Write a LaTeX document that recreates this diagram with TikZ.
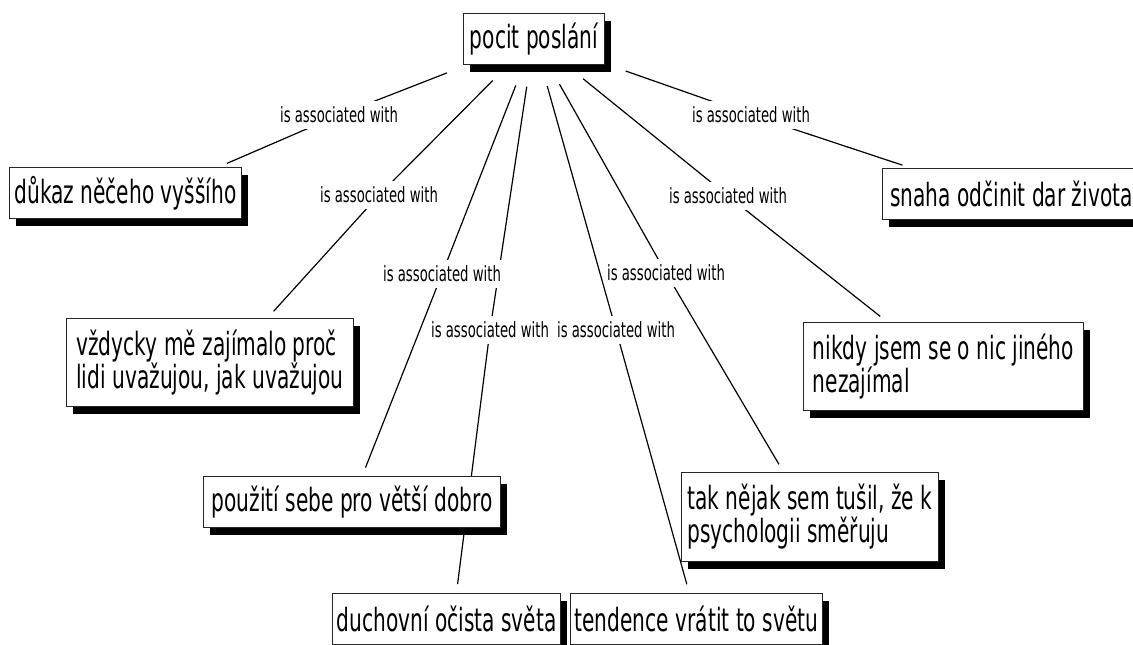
\documentclass[tikz,border=0pt]{standalone}
\usepackage{fontspec}
\setmainfont{DejaVu Sans}[FakeStretch=0.63]
\usetikzlibrary{shadows,backgrounds,calc}

\tikzset{
  concept/.style={draw=black!85, line width=0.9pt, fill=white, anchor=north west,
    inner sep=0pt, align=left, font=\fontsize{32}{33}\selectfont,
    drop shadow={shadow xshift=7pt, shadow yshift=-8pt, fill=black, opacity=1}},
  phrase/.style={fill=white, inner xsep=1pt, inner ysep=5.5pt,
    font=\fontsize{21}{23}\selectfont},
  link/.style={line width=1.2pt, shorten <=22pt, shorten >=9pt},
}

\begin{document}
\begin{tikzpicture}[x=1pt,y=-1pt]
\useasboundingbox (0,0) rectangle (1133,645);

% concepts
\node[concept, minimum width=141pt, minimum height=51pt] (src)   at (463,13)  {pocit poslání};
\node[concept, minimum width=232pt, minimum height=51pt] (dukaz) at (9,167)   {důkaz něčeho vyššího};
\node[concept, minimum width=258pt, minimum height=51pt] (snaha) at (882,168) {snaha odčinit dar života};
\node[concept, minimum width=287pt, minimum height=88pt] (vzdy)  at (66,318)  {vždycky mě zajímalo proč\\lidi uvažujou, jak uvažujou};
\node[concept, minimum width=280pt, minimum height=88pt] (nikdy) at (803,322) {nikdy jsem se o nic jiného\\nezajímal};
\node[concept, minimum width=297pt, minimum height=51pt] (pouz)  at (203,476) {použití sebe pro větší dobro};
\node[concept, minimum width=257pt, minimum height=89pt] (tak)   at (681,472) {tak nějak sem tušil, že k\\psychologii směřuju};
\node[concept, minimum width=228pt, minimum height=51pt] (duch)  at (332,593) {duchovní očista světa};
\node[concept, minimum width=252pt, minimum height=51pt] (tend)  at (570,593) {tendence vrátit to světu};

% linking phrases
\node[phrase] (l1) at (339,115) {is associated with};
\node[phrase] (l2) at (379,195) {is associated with};
\node[phrase] (l3) at (442,274) {is associated with};
\node[phrase] (l4) at (490,330) {is associated with};
\node[phrase] (l5) at (616,330) {is associated with};
\node[phrase] (l6) at (666,273) {is associated with};
\node[phrase] (l7) at (728,196) {is associated with};
\node[phrase] (l8) at (751,115) {is associated with};

% links, kept behind the boxes and phrases
\begin{scope}[on background layer]
  \draw[link] (src) -- (l1.center) -- ($(dukaz.north west)!0.9!(dukaz.north east)$);
  \draw[link] (src) -- (l2.center) -- ($(vzdy.north west)!0.7!(vzdy.north east)$);
  \draw[link] (src) -- (l3.center) -- (pouz);
  \draw[link] (src) -- (l4.center) -- ($(duch.north)+(10,0)$);
  \draw[link] (src) -- (l5.center) -- (tend);
  \draw[link] (src) -- (l6.center) -- (tak);
  \draw[link] (src) -- (l7.center) -- (nikdy);
  \draw[link] (src) -- (l8.center) -- ($(snaha.north west)+(29,0)$);
\end{scope}
\end{tikzpicture}
\end{document}
